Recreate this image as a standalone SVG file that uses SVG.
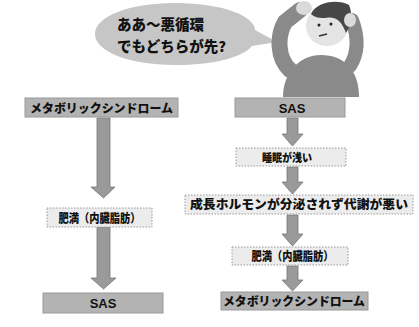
<svg xmlns="http://www.w3.org/2000/svg" width="419" height="327" viewBox="0 0 419 327">
  <style>
    .solid { fill: #b3b3b3; stroke: #999999; stroke-width: 1; }
    .light { fill: #ececec; stroke: #9a9a9a; stroke-width: 1; stroke-dasharray: 1.5 1.5; }
    .lbl { font-family: "Noto Sans CJK JP", "Liberation Sans", sans-serif; font-weight: 900; fill: #111; text-anchor: middle; }
    .sas { font-family: "Liberation Sans", "Noto Sans CJK JP", sans-serif; font-weight: bold; fill: #111; text-anchor: middle; font-size: 13px; }
    .arrow { fill: #9a9a9a; stroke: #777777; stroke-width: 0.8; }
    .bubble-text { font-family: "Noto Sans CJK JP", "Liberation Sans", sans-serif; font-weight: 900; fill: #111; font-size: 14.5px; }
  </style>
  <rect width="419" height="327" fill="#ffffff"/>

  <!-- speech bubble -->
  <g id="bubble">
    <path d="M175,3 C225,3 255,17 255,30 L277,42 L252,46 C242,58 212,65 175,65 C128,65 95,51 95,34 C95,17 128,3 175,3 Z" fill="#c6c6c6"/>
    <text class="bubble-text" x="117" y="30">ああ～悪循環</text>
    <text class="bubble-text" x="117" y="52">でもどちらが先?</text>
  </g>

  <!-- worried person -->
  <g id="person">
    <path d="M283,97 C283,72 300,55 321,55 C344,55 359,70 359,97 Z" fill="#8a8a8a"/>
    <path d="M290,70 C277,58 277,36 285,22 L300,10" fill="none" stroke="#8a8a8a" stroke-width="16" stroke-linecap="round"/>
    <path d="M350,66 C359,52 358,36 352,20" fill="none" stroke="#8a8a8a" stroke-width="14" stroke-linecap="round"/>
    <ellipse cx="327" cy="26" rx="21" ry="20" fill="#e4e4e4"/>
    <path d="M311,14 C317,1 338,-1 349,5 C353,14 351,26 346,33 C342,22 336,16 326,18 C320,18 315,18 311,14 Z" fill="#474747"/>
    <ellipse cx="304" cy="8" rx="8" ry="7" fill="#dadada"/>
    <ellipse cx="350" cy="20" rx="6" ry="7" fill="#dadada"/>
    <circle cx="319" cy="25" r="1.5" fill="#222"/>
    <circle cx="331" cy="24" r="1.5" fill="#222"/>
    <path d="M319,36 L327,34" stroke="#333" stroke-width="1.5" fill="none"/>
  </g>

  <!-- connectors -->
  <g id="connectors">
    <path class="arrow" d="M97,118 H110 V187 H115 L103.5,198 L91,187 H97 Z"/>
    <path class="arrow" d="M97,227 H110 V278 H116 L103.5,289 L91,278 H97 Z"/>
    <path class="arrow" d="M287,118 H298 V134 H303 L292.5,146 L282,134 H287 Z"/>
    <path class="arrow" d="M287,167 H298 V182 H303 L292.5,194 L282,182 H287 Z"/>
    <path class="arrow" d="M287,215 H298 V234 H303 L292.5,246 L282,234 H287 Z"/>
    <path class="arrow" d="M287,266 H298 V280 H303 L292.5,291 L282,280 H287 Z"/>
  </g>

  <!-- left column -->
  <g id="metabo-left">
    <rect class="solid" x="25" y="98" width="153" height="19"/>
    <text class="lbl" x="101.5" y="112.5" font-size="12" textLength="143" lengthAdjust="spacingAndGlyphs">メタボリックシンドローム</text>
  </g>
  <g id="obesity-left">
    <rect class="light" x="47" y="208" width="105" height="19"/>
    <text class="lbl" x="99.5" y="222.5" font-size="12" textLength="82" lengthAdjust="spacingAndGlyphs">肥満（内臓脂肪）</text>
  </g>
  <g id="sas-left">
    <rect class="solid" x="43" y="293" width="120" height="20"/>
    <text class="sas" x="103" y="307.5">SAS</text>
  </g>

  <!-- right column -->
  <g id="sas-right">
    <rect class="solid" x="235" y="98" width="110" height="19"/>
    <text class="sas" x="292" y="112.5">SAS</text>
  </g>
  <g id="shallow-sleep">
    <rect class="light" x="236" y="148" width="110" height="18"/>
    <text class="lbl" x="287" y="161.5" font-size="11.5" textLength="50" lengthAdjust="spacingAndGlyphs">睡眠が浅い</text>
  </g>
  <g id="growth-hormone">
    <rect class="light" x="185" y="195" width="228" height="19"/>
    <text class="lbl" x="299" y="209" font-size="12.5" textLength="218" lengthAdjust="spacingAndGlyphs">成長ホルモンが分泌されず代謝が悪い</text>
  </g>
  <g id="obesity-right">
    <rect class="light" x="232" y="247" width="116" height="18"/>
    <text class="lbl" x="292.5" y="260.5" font-size="12" textLength="82" lengthAdjust="spacingAndGlyphs">肥満（内臓脂肪）</text>
  </g>
  <g id="metabo-right">
    <rect class="solid" x="221" y="292" width="147" height="18"/>
    <text class="lbl" x="294" y="305.5" font-size="12" textLength="142" lengthAdjust="spacingAndGlyphs">メタボリックシンドローム</text>
  </g>
</svg>
